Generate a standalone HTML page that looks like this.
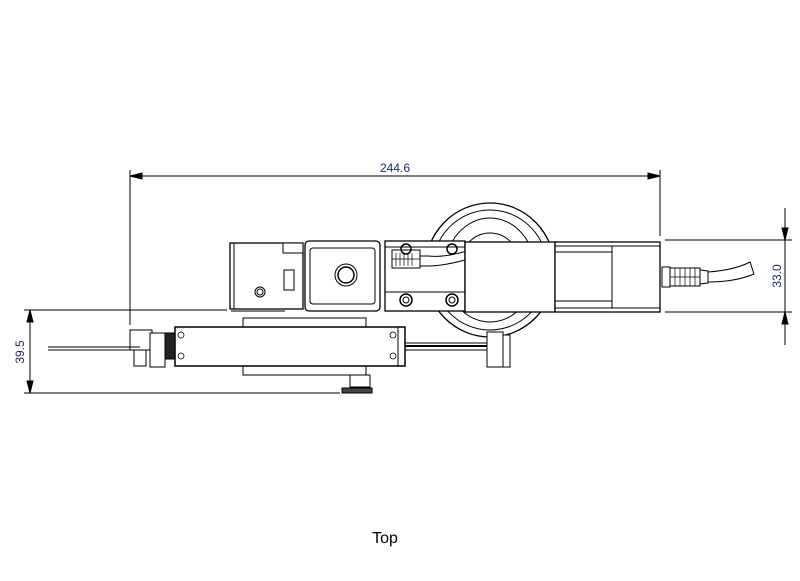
<!DOCTYPE html>
<html><head><style>
html,body{margin:0;padding:0;background:#fff;}
svg{display:block;}
</style></head><body>
<svg width="800" height="581" viewBox="0 0 800 581" xmlns="http://www.w3.org/2000/svg" font-family="Liberation Sans, sans-serif">
<g stroke="#000" fill="none" stroke-width="1">
<!-- dimension 244.6 -->
<line x1="130" y1="176" x2="660" y2="176"/>
<line x1="130" y1="170" x2="130" y2="325"/>
<line x1="660" y1="170" x2="660" y2="236"/>
<polygon points="130,176 142,173 142,179" fill="#000"/>
<polygon points="660,176 648,173 648,179" fill="#000"/>
<!-- 33.0 -->
<line x1="665" y1="240" x2="792" y2="240"/>
<line x1="665" y1="312" x2="792" y2="312"/>
<line x1="785" y1="208" x2="785" y2="345"/>
<polygon points="785,240 782,228 788,228" fill="#000"/>
<polygon points="785,312 782,324 788,324" fill="#000"/>
<!-- 39.5 -->
<line x1="24" y1="310" x2="227" y2="310"/>
<line x1="24" y1="393" x2="340" y2="393"/>
<line x1="30" y1="310" x2="30" y2="393"/>
<polygon points="30,310 27,322 33,322" fill="#000"/>
<polygon points="30,393 27,381 33,381" fill="#000"/>

<!-- wheel -->
<ellipse cx="490" cy="270" rx="65" ry="67" stroke-width="1.3"/>
<ellipse cx="490" cy="270" rx="58" ry="60"/>
<ellipse cx="490" cy="270" rx="45" ry="52"/>
<ellipse cx="490" cy="270" rx="32" ry="37"/>

<!-- camera block -->
<rect x="230" y="243" width="73" height="66" fill="#fff" stroke-width="1.3"/>
<line x1="234" y1="243" x2="234" y2="309"/>
<rect x="283" y="243" width="20" height="10" fill="#fff"/>
<circle cx="260" cy="292" r="5"/><circle cx="260" cy="292" r="3"/>
<rect x="284" y="270" width="10" height="20"/>
<line x1="231" y1="311" x2="285" y2="311"/>
<!-- plate box -->
<rect x="305" y="241" width="75" height="70" rx="4" fill="#fff" stroke-width="1.3"/>
<rect x="310" y="248" width="65" height="56" rx="3"/>
<circle cx="346" cy="275" r="11"/><circle cx="346" cy="275" r="8" stroke-width="1.5"/>
<!-- connector block -->
<rect x="385" y="241" width="80" height="70" fill="#fff" stroke-width="1.3"/>
<line x1="385" y1="292" x2="465" y2="292"/>
<line x1="385" y1="247" x2="465" y2="247"/>
<rect x="392" y="250" width="28" height="18" fill="#fff"/>
<g stroke-width="0.7"><line x1="396" y1="253" x2="396" y2="266"/><line x1="400" y1="253" x2="400" y2="266"/><line x1="404" y1="253" x2="404" y2="266"/><line x1="408" y1="253" x2="408" y2="266"/><line x1="412" y1="253" x2="412" y2="266"/><line x1="392" y1="259" x2="420" y2="259"/></g>
<path d="M420 256 L428 256 Q445 258 470 250 L472 258 Q445 266 428 266 L420 266"/>
<circle cx="406" cy="300" r="6" stroke-width="1.5"/><circle cx="406" cy="300" r="3"/>
<circle cx="452" cy="300" r="6" stroke-width="1.5"/><circle cx="452" cy="300" r="3"/>
<circle cx="406" cy="249" r="5" stroke-width="1.5"/>
<circle cx="452" cy="249" r="5" stroke-width="1.5"/>
<!-- arm -->
<rect x="465" y="242" width="90" height="70" fill="#fff" stroke-width="1.3"/>
<rect x="555" y="242" width="105" height="70" fill="#fff" stroke-width="1.3"/>
<line x1="555" y1="246" x2="660" y2="246"/>
<line x1="555" y1="308" x2="660" y2="308"/>
<polyline points="555,252 612,252 612,246"/>
<polyline points="555,301 612,301 612,308"/>
<line x1="612" y1="252" x2="612" y2="301"/>
<!-- right connector -->
<rect x="662" y="267" width="8" height="20"/>
<rect x="670" y="268" width="30" height="18"/>
<g stroke-width="0.7"><line x1="675" y1="268" x2="675" y2="286"/><line x1="680" y1="268" x2="680" y2="286"/><line x1="685" y1="268" x2="685" y2="286"/><line x1="690" y1="268" x2="690" y2="286"/><line x1="695" y1="268" x2="695" y2="286"/><line x1="670" y1="277" x2="700" y2="277"/></g>
<path d="M700 270 L708 271 L708 283 L700 284"/>
<path d="M708 272 Q735 270 750 262 L754 274 Q735 282 708 282"/>

<!-- back plate -->
<rect x="243" y="318" width="123" height="57" fill="#fff"/>
<!-- rod -->
<rect x="405" y="343" width="85" height="7" fill="#fff"/>
<line x1="405" y1="346" x2="490" y2="346" stroke-width="2"/>
<!-- rail box -->
<rect x="175" y="327" width="230" height="39" fill="#fff" stroke-width="1.5"/>
<line x1="398" y1="327" x2="398" y2="366"/>
<g stroke-width="0.8">
<circle cx="181" cy="335" r="3"/><circle cx="181" cy="356" r="3"/>
<circle cx="393" cy="335" r="3"/><circle cx="393" cy="356" r="3"/></g>
<!-- springs -->
<rect x="165" y="333" width="10" height="26" fill="#222"/>
<!-- left clamp -->
<rect x="130" y="330" width="22" height="20" fill="#fff"/>
<rect x="150" y="333" width="15" height="34" fill="#fff"/>
<rect x="134" y="350" width="12" height="16" fill="#fff"/>
<line x1="48" y1="347" x2="140" y2="347"/>
<line x1="48" y1="350" x2="140" y2="350"/>
<!-- right clamp -->
<rect x="487" y="332" width="16" height="35" fill="#fff"/>
<rect x="503" y="335" width="7" height="32" fill="#fff"/>
<!-- knob -->
<rect x="350" y="375" width="20" height="12" fill="#fff"/>
<rect x="342" y="388" width="30" height="5" fill="#444"/>
</g>
<g font-size="12" fill="#1a2a6a">
<text x="395" y="172" text-anchor="middle">244.6</text>
<text transform="translate(781,276) rotate(-90)" text-anchor="middle">33.0</text>
<text transform="translate(24,352) rotate(-90)" text-anchor="middle">39.5</text>
</g>
<text x="385" y="543" font-size="16" text-anchor="middle" fill="#000">Top</text>
</svg>
</body></html>
